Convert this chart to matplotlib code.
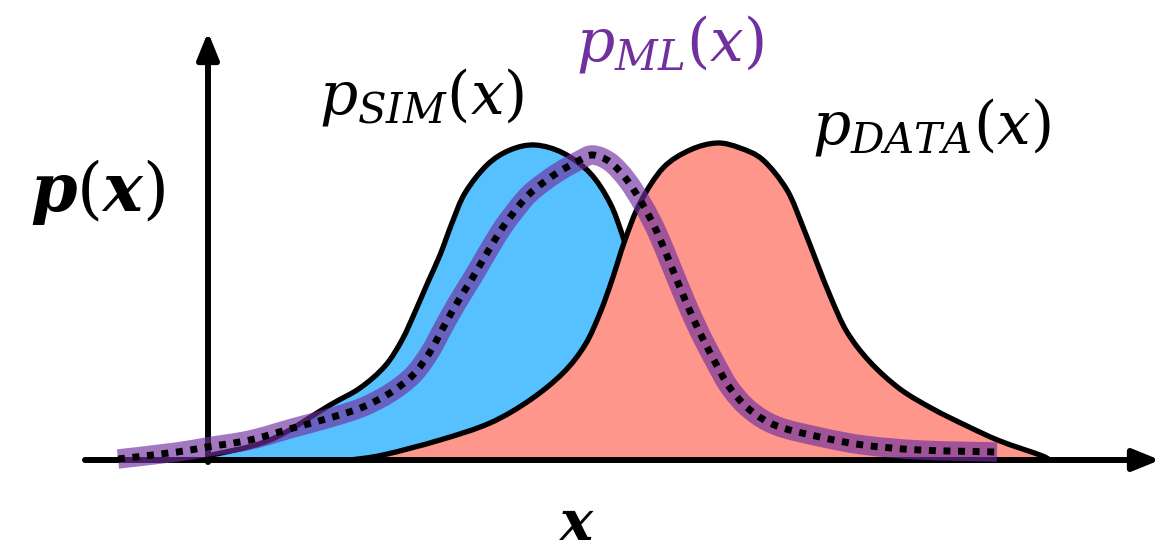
import numpy as np
import matplotlib.pyplot as plt
from matplotlib.path import Path
from matplotlib.patches import PathPatch

plt.rcParams['mathtext.fontset'] = 'dejavuserif'

BASE = 460  # pixel row of the x axis in the original drawing

# curves: x position and pixel row
sim_x = [207, 270, 330, 360, 385, 402, 415, 428, 440, 452, 465, 487, 510, 535, 563, 590, 610, 623, 640, 660, 690, 730, 790, 850]
sim_y = [456, 440, 405, 388, 366, 340, 312, 282, 255, 223, 193, 165, 150, 145, 153, 173, 203, 237, 290, 350, 400, 435, 455, 460]

data_x = [350, 383, 440, 490, 530, 563, 585, 600, 612, 625, 640, 663, 690, 717, 740, 763, 787, 803, 817, 831, 847, 870, 900, 933, 967, 1000, 1040, 1050]
data_y = [460, 455, 440, 423, 400, 373, 345, 313, 280, 240, 203, 168, 150, 143, 148, 160, 190, 227, 263, 298, 332, 362, 389, 409, 426, 441, 455, 460]

ml_x = [118, 177, 207, 250, 293, 333, 363, 390, 413, 430, 443, 457, 473, 487, 503, 522, 535, 557, 580, 593, 610, 627, 643, 657, 672, 686, 700, 715, 730, 750, 777, 820, 863, 920, 997]
ml_y = [459, 452, 447, 440, 428, 417, 407, 393, 375, 352, 328, 303, 277, 253, 227, 202, 189, 173, 160, 155, 162, 180, 205, 232, 268, 302, 333, 362, 388, 410, 426, 437, 445, 450, 452]

labels = [r'$p_{SIM}(x)$', r'$p_{ML}(x)$', r'$p_{DATA}(x)$']


def curve_path(x, y, close=False):
    # smooth bezier path going through every read point
    p = np.column_stack([x, y]).astype(float)
    pad = np.vstack([p[0], p, p[-1]])
    verts = [p[0]]
    codes = [Path.MOVETO]
    for i in range(len(p) - 1):
        c1 = pad[i + 1] + (pad[i + 2] - pad[i]) / 6
        c2 = pad[i + 2] - (pad[i + 3] - pad[i + 1]) / 6
        verts += [c1, c2, pad[i + 2]]
        codes += [Path.CURVE4] * 3
    if close:
        verts += [(x[-1], 0), (x[0], 0), (x[0], 0)]
        codes += [Path.LINETO, Path.LINETO, Path.CLOSEPOLY]
    return Path(verts, codes)


sim_h = BASE - np.array(sim_y)
data_h = BASE - np.array(data_y)
ml_h = BASE - np.array(ml_y)

fig = plt.figure(figsize=(11.6, 5.53), dpi=100)
ax = fig.add_axes([0, 0, 1, 1])
ax.set_xlim(0, 1160)
ax.set_ylim(-93, 460)
ax.axis('off')

# filled densities
ax.add_patch(PathPatch(curve_path(sim_x, sim_h, True), fc='#57C0FE', lw=0, zorder=1))
ax.add_patch(PathPatch(curve_path(sim_x, sim_h), fill=False, ec='black', lw=3.8, zorder=1.5))
ax.add_patch(PathPatch(curve_path(data_x, data_h, True), fc='#FE968B', lw=0, zorder=2))
ax.add_patch(PathPatch(curve_path(data_x, data_h), fill=False, ec='black', lw=3.8, zorder=2.5))

# axes arrows
arrow = dict(arrowstyle='-|>,head_length=1.6,head_width=0.65', lw=4.3, color='black',
             shrinkA=0, shrinkB=0)
ax.annotate('', xy=(1160, 0), xytext=(85, 0), arrowprops=arrow, zorder=3)
ax.annotate('', xy=(208, 428), xytext=(208, -2), arrowprops=arrow, zorder=3)

# ML curve: translucent band with dotted line
ml_path = curve_path(ml_x, ml_h)
ax.add_patch(PathPatch(ml_path, fill=False, ec='#7030A0', alpha=0.65, lw=14,
                       capstyle='butt', joinstyle='round', zorder=4))
ax.add_patch(PathPatch(ml_path, fill=False, ec='black', lw=5, linestyle=(0, (1, 1.1)),
                       capstyle='butt', zorder=5))

# labels
ax.text(98, 268, r'$\boldsymbol{p}(\boldsymbol{x})$', fontsize=48, ha='center', va='center')
ax.text(577, -80, r'$\boldsymbol{x}$', fontsize=40, ha='center', va='baseline')
ax.text(422, 363, labels[0], fontsize=43, ha='center', va='center')
ax.text(670, 416, labels[1], fontsize=43, ha='center', va='center', color='#7030A0')
ax.text(932, 333, labels[2], fontsize=43, ha='center', va='center')

fig.savefig('out.png', dpi=100)
